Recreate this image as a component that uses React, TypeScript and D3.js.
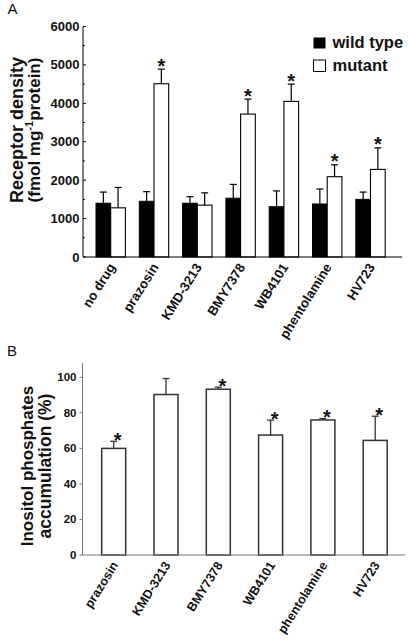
import React from "react";
import * as d3 from "d3";

const categoriesA = ["no drug", "prazosin", "KMD-3213", "BMY7378", "WB4101", "phentolamine", "HV723"];
const wildType = [1400, 1450, 1400, 1530, 1310, 1380, 1500];
const wildTypeSd = [290, 250, 170, 360, 410, 390, 190];
const mutant = [1280, 4510, 1350, 3720, 4050, 2090, 2280];
const mutantSd = [530, 380, 320, 390, 450, 310, 560];
const mutantSignificant = [false, true, false, true, true, true, true];
const yTicksA = [0, 1000, 2000, 3000, 4000, 5000, 6000];

const categoriesB = ["prazosin", "KMD-3213", "BMY7378", "WB4101", "phentolamine", "HV723"];
const ipAccumulation = [60, 90.3, 93.3, 67.5, 76, 64.5];
const ipSd = [4, 9, 1.1, 8.4, 0.8, 13.6];
const ipSignificant = [true, false, true, true, true, true];
const yTicksB = [0, 20, 40, 60, 80, 100];

const FONT = "'Liberation Sans', Arial, Helvetica, sans-serif";

export default function App() {
  // Panel A scales
  const yA = d3.scaleLinear().domain([0, 6000]).range([257, 26.5]);
  const xA = d3.scaleBand<string>().domain(categoriesA).range([96, 385.2]).paddingInner(0.321);
  const bwA = xA.bandwidth() / 2;
  const minorA = yA.ticks(12);
  const axisXA = 83;

  // Panel B scales
  const yB = d3.scaleLinear().domain([0, 100]).range([555, 377.3]);
  const xB = d3.scaleBand<string>().domain(categoriesB).range([101.7, 387.2]).paddingInner(0.541);
  const bwB = xB.bandwidth();
  const axisXB = 82.5;

  const errBar = (x: number, yTop: number, yErr: number, key: string, color: string, w = 1.2) => (
    <g key={key} stroke={color} strokeWidth={w} fill="none">
      <line x1={x} x2={x} y1={yTop} y2={yErr} />
      <line x1={x - 3.5} x2={x + 3.5} y1={yErr} y2={yErr} />
    </g>
  );

  return (
    <svg
      width={408}
      height={640}
      style={{ position: "absolute", left: 0, top: 0, background: "#fff" }}
      fontFamily={FONT}
    >
      <rect x={0} y={0} width={408} height={640} fill="#fff" />
      {/* ---------- Panel A ---------- */}
      <text x={7.5} y={14} fontSize={15} fill="#111">A</text>
      <g transform="translate(22.5,130) rotate(-90)">
        <text textAnchor="middle" fontSize={18} fontWeight="bold" fill="#111">Receptor density</text>
      </g>
      <g transform="translate(39.5,130) rotate(-90)">
        <text textAnchor="middle" fontSize={17} fontWeight="bold" fill="#111">
          (fmol  mg<tspan fontSize={11} dy={-7}>-1</tspan><tspan dy={7}>protein)</tspan>
        </text>
      </g>

      {/* bars A */}
      {categoriesA.map((c, i) => {
        const x0 = xA(c)!;
        return (
          <g key={c}>
            <rect x={x0} y={yA(wildType[i])} width={bwA} height={yA(0) - yA(wildType[i])} fill="#000" stroke="#000" strokeWidth={1} />
            <rect x={x0 + bwA} y={yA(mutant[i])} width={bwA} height={yA(0) - yA(mutant[i])} fill="#fff" stroke="#000" strokeWidth={1.1} />
            {errBar(x0 + bwA / 2, yA(wildType[i]), yA(wildType[i] + wildTypeSd[i]), c + "w", "#000")}
            {errBar(x0 + bwA * 1.5, yA(mutant[i]), yA(mutant[i] + mutantSd[i]), c + "m", "#000")}
            {mutantSignificant[i] && (
              <text x={x0 + bwA * 1.5} y={yA(mutant[i] + mutantSd[i]) + 3.5} textAnchor="middle" fontSize={20} fontWeight="bold" fill="#111">*</text>
            )}
          </g>
        );
      })}

      {/* axes A */}
      <line x1={axisXA} x2={axisXA} y1={yA(6000)} y2={yA(0)} stroke="#000" strokeWidth={1} />
      <line x1={axisXA} x2={402} y1={yA(0)} y2={yA(0)} stroke="#000" strokeWidth={1.2} />
      {minorA.map((t) => (
        <line key={"m" + t} x1={axisXA} x2={axisXA + (t % 1000 === 0 ? 3 : 2)} y1={yA(t)} y2={yA(t)} stroke="#000" strokeWidth={1} />
      ))}
      {yTicksA.map((t) => (
        <text key={"t" + t} x={79.5} y={yA(t) + 4.5} textAnchor="end" fontSize={13} fontWeight="bold" fill="#111">{t}</text>
      ))}
      {categoriesA.map((c) => (
        <text
          key={"l" + c}
          transform={`translate(${xA(c)! + xA.bandwidth() / 2 + 5},${yA(0) + 10}) rotate(-58)`}
          textAnchor="end"
          fontSize={13.2}
          fontWeight="bold"
          fill="#111"
        >
          {c}
        </text>
      ))}

      {/* legend */}
      <rect x={313.5} y={37.5} width={12} height={11} fill="#000" />
      <text x={332.5} y={48} fontSize={16.5} fontWeight="bold" fill="#111">wild type</text>
      <rect x={313.5} y={60} width={12} height={11.5} fill="#fff" stroke="#000" strokeWidth={1} />
      <text x={332.5} y={70.5} fontSize={16.5} fontWeight="bold" fill="#111">mutant</text>

      {/* ---------- Panel B ---------- */}
      <text x={7} y={356} fontSize={15} fill="#111">B</text>
      <g transform="translate(33,466) rotate(-90)">
        <text textAnchor="middle" fontSize={17} fontWeight="bold" fill="#111">Inositol phosphates</text>
      </g>
      <g transform="translate(51,466) rotate(-90)">
        <text textAnchor="middle" fontSize={17.5} fontWeight="bold" fill="#111">accumulation (%)</text>
      </g>

      {categoriesB.map((c, i) => {
        const x0 = xB(c)!;
        const cx = x0 + bwB / 2;
        return (
          <g key={"b" + c}>
            <rect x={x0} y={yB(ipAccumulation[i])} width={bwB} height={yB(0) - yB(ipAccumulation[i])} fill="#fff" stroke="#333" strokeWidth={1.5} />
            {errBar(cx, yB(ipAccumulation[i]), yB(ipAccumulation[i] + ipSd[i]), "e" + c, "#333", 1.3)}
            {ipSignificant[i] && (
              <text x={cx + 4} y={yB(ipAccumulation[i] + ipSd[i]) + 5.5} textAnchor="middle" fontSize={20} fontWeight="bold" fill="#111">*</text>
            )}
          </g>
        );
      })}

      <line x1={axisXB} x2={axisXB} y1={363} y2={yB(0)} stroke="#777" strokeWidth={1} />
      <line x1={axisXB} x2={405} y1={yB(0)} y2={yB(0)} stroke="#777" strokeWidth={1} />
      {yTicksB.map((t) => (
        <g key={"bt" + t}>
          <line x1={axisXB - 3} x2={axisXB} y1={yB(t)} y2={yB(t)} stroke="#777" strokeWidth={1} />
          <text x={76.5} y={yB(t) + 4} textAnchor="end" fontSize={11.5} fontWeight="bold" fill="#111">{t}</text>
        </g>
      ))}
      {categoriesB.map((c) => (
        <text
          key={"bl" + c}
          transform={`translate(${xB(c)! + bwB / 2 + 5},${yB(0) + 10}) rotate(-58)`}
          textAnchor="end"
          fontSize={12.6}
          fontWeight="bold"
          fill="#111"
        >
          {c}
        </text>
      ))}
    </svg>
  );
}
